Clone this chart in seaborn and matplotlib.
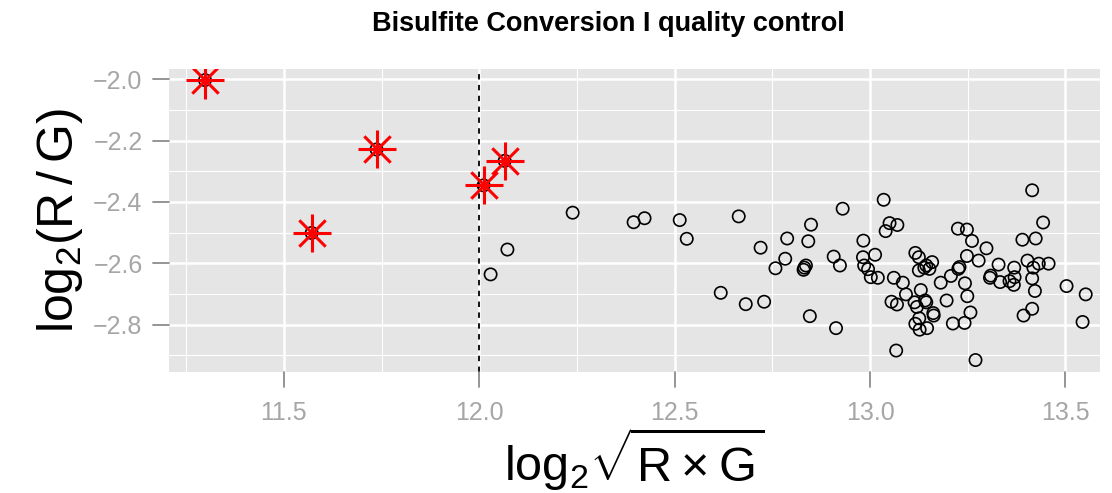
import numpy as np
import pandas as pd
import matplotlib
matplotlib.use('Agg')
import matplotlib.pyplot as plt
import seaborn as sns

# samples that pass the control
qc_x = [12.072, 12.029, 12.239, 12.395, 12.423, 12.513, 12.531, 12.664, 12.720, 12.788,
        12.849, 12.842, 12.930, 12.907, 12.923, 12.783, 12.758, 12.836, 12.832, 12.830,
        12.618, 12.682, 12.729, 12.846, 12.913, 13.415, 13.035, 13.050, 13.070, 13.040,
        13.443, 13.225, 13.248, 13.261, 12.983, 13.390, 13.424, 13.298, 12.982, 13.013,
        12.985, 12.995, 13.002, 13.020, 13.116, 13.125, 13.159, 13.144, 13.152, 13.139,
        13.125, 13.248, 13.229, 13.226, 13.278, 13.329, 13.403, 13.432, 13.457, 13.418,
        13.369, 13.309, 13.307, 13.333, 13.357, 13.370, 13.368, 13.415, 13.422, 13.207,
        13.181, 13.061, 13.084, 13.092, 13.130, 13.055, 13.069, 13.114, 13.120, 13.141,
        13.144, 13.196, 13.243, 13.249, 13.257, 13.126, 13.116, 13.127, 13.146, 13.162,
        13.163, 13.212, 13.242, 13.270, 13.067, 13.393, 13.415, 13.503, 13.552, 13.544]
qc_y = [-2.555, -2.636, -2.435, -2.466, -2.453, -2.459, -2.520, -2.447, -2.549, -2.519,
        -2.474, -2.528, -2.422, -2.578, -2.607, -2.585, -2.616, -2.607, -2.614, -2.621,
        -2.696, -2.733, -2.725, -2.772, -2.811, -2.362, -2.393, -2.469, -2.475, -2.495,
        -2.467, -2.487, -2.490, -2.527, -2.526, -2.523, -2.519, -2.551, -2.580, -2.572,
        -2.607, -2.619, -2.645, -2.647, -2.566, -2.580, -2.596, -2.607, -2.618, -2.614,
        -2.623, -2.576, -2.612, -2.618, -2.591, -2.604, -2.591, -2.601, -2.601, -2.614,
        -2.614, -2.640, -2.647, -2.661, -2.658, -2.645, -2.670, -2.649, -2.690, -2.641,
        -2.663, -2.647, -2.663, -2.701, -2.687, -2.725, -2.734, -2.727, -2.742, -2.721,
        -2.727, -2.721, -2.665, -2.707, -2.760, -2.779, -2.797, -2.816, -2.811, -2.762,
        -2.770, -2.796, -2.794, -2.915, -2.884, -2.770, -2.748, -2.674, -2.701, -2.791]

# samples flagged as outliers
bad_x = [11.298, 11.571, 11.737, 12.011, 12.065]
bad_y = [-2.003, -2.501, -2.229, -2.346, -2.266]

x_ticks = [11.5, 12.0, 12.5, 13.0, 13.5]
y_ticks = [-2.0, -2.2, -2.4, -2.6, -2.8]
x_minor = [11.25, 11.75, 12.25, 12.75, 13.25]
y_minor = [-2.1, -2.3, -2.5, -2.7, -2.9]
x_labels = ['11.5', '12.0', '12.5', '13.0', '13.5']
y_labels = ['\u22122.0', '\u22122.2', '\u22122.4', '\u22122.6', '\u22122.8']

cutoff = 12.0
title = 'Bisulfite Conversion I quality control'

df = pd.DataFrame({'x': qc_x + bad_x, 'y': qc_y + bad_y})
bad = pd.DataFrame({'x': bad_x, 'y': bad_y})

sns.set_style('darkgrid', {'axes.facecolor': '#E5E5E5', 'grid.color': 'white',
                           'text.color': 'black', 'axes.labelcolor': 'black'})
plt.rcParams['font.family'] = ['Liberation Sans', 'DejaVu Sans']
plt.rcParams['mathtext.fontset'] = 'custom'
plt.rcParams['mathtext.rm'] = 'Liberation Sans'

fig = plt.figure(figsize=(11.12, 4.93), dpi=100)
ax = fig.add_axes([0.152, 0.246, 0.837, 0.614])

sns.scatterplot(x='x', y='y', data=df, ax=ax, s=78, facecolor='none',
                edgecolor='black', linewidth=1.2, zorder=3)
sns.scatterplot(x='x', y='y', data=bad, ax=ax, marker='+', s=750, color='red',
                linewidth=2.2, zorder=4)
sns.scatterplot(x='x', y='y', data=bad, ax=ax, marker='x', s=360, color='red',
                linewidth=2.2, zorder=4)
ax.axvline(cutoff, color='black', linestyle=(0, (3, 3)), linewidth=1.3, zorder=2)

ax.set_xlim(11.206, 13.588)
ax.set_ylim(-2.953, -1.967)
ax.set_xticks(x_ticks)
ax.set_yticks(y_ticks)
ax.set_xticklabels(x_labels)
ax.set_yticklabels(y_labels)
ax.set_xticks(x_minor, minor=True)
ax.set_yticks(y_minor, minor=True)
ax.grid(which='major', color='white', linewidth=1.8)
ax.grid(which='minor', color='white', linewidth=0.8)
ax.tick_params(which='both', length=0, labelcolor='#a6a6a6', labelsize=18)
ax.tick_params(axis='x', which='major', pad=21)
ax.tick_params(axis='y', which='major', pad=19)
for s in ax.spines.values():
    s.set_visible(False)

# grey tick marks outside the panel
xt = ax.get_xaxis_transform()
yt = ax.get_yaxis_transform()
for v in x_ticks:
    ax.plot([v, v], [0, -0.052], transform=xt, color='#8c8c8c', lw=1.3, clip_on=False)
for v in y_ticks:
    ax.plot([0, -0.0175], [v, v], transform=yt, color='#8c8c8c', lw=1.3, clip_on=False)

ax.set_xlabel(r'$\mathregular{log_2\sqrt{R\times G}}$', fontsize=35, labelpad=0)
ax.set_ylabel(r'$\mathregular{log_2(R\,/\,G)}$', fontsize=36, labelpad=6)
fig.text(0.547, 0.952, title, ha='center', va='center', fontsize=19.5, fontweight='bold')

fig.savefig('out.png', dpi=100)
